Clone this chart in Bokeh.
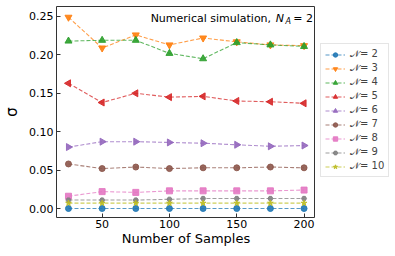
import numpy as np
from bokeh.plotting import figure
from bokeh.layouts import row
from bokeh.models import Range1d, Legend, LegendItem, Label, FixedTicker, NumeralTickFormatter
from bokeh.embed import file_html
from bokeh.resources import INLINE

samples = [25, 50, 75, 100, 125, 150, 175, 200]
series_names = ["2", "3", "4", "5", "6", "7", "8", "9", "10"]
sigma_2 = [0.000, 0.000, 0.000, 0.000, 0.000, 0.000, 0.000, 0.000]
sigma_3 = [0.249, 0.209, 0.226, 0.213, 0.222, 0.217, 0.213, 0.212]
sigma_4 = [0.218, 0.219, 0.219, 0.202, 0.195, 0.216, 0.213, 0.211]
sigma_5 = [0.163, 0.138, 0.150, 0.145, 0.146, 0.140, 0.139, 0.137]
sigma_6 = [0.080, 0.087, 0.087, 0.086, 0.085, 0.083, 0.081, 0.082]
sigma_7 = [0.058, 0.052, 0.054, 0.052, 0.053, 0.053, 0.054, 0.053]
sigma_8 = [0.016, 0.022, 0.021, 0.023, 0.023, 0.023, 0.023, 0.024]
sigma_9 = [0.011, 0.011, 0.011, 0.012, 0.013, 0.013, 0.013, 0.013]
sigma_10 = [0.007, 0.007, 0.007, 0.007, 0.007, 0.007, 0.007, 0.007]
all_sigma = [sigma_2, sigma_3, sigma_4, sigma_5, sigma_6, sigma_7, sigma_8, sigma_9, sigma_10]
x_ticks = [50, 100, 150, 200]
y_ticks = [0.00, 0.05, 0.10, 0.15, 0.20, 0.25]

colors = ["#1f77b4", "#ff7f0e", "#2ca02c", "#d62728", "#9467bd",
          "#8c564b", "#e377c2", "#7f7f7f", "#bcbd22"]
markers = ["circle", "inverted_triangle", "triangle", "triangle", "triangle",
           "circle", "square", "hex", "star"]
angles = [0, 0, 0, np.pi / 2, -np.pi / 2, 0, 0, 0, 0]
msizes = [6, 7, 7, 7, 7, 6, 6, 5, 6]

FONT = "DejaVu Sans"
H = 248

p = figure(width=315, height=H, output_backend="svg", toolbar_location=None,
           x_range=Range1d(16.1, 208.5), y_range=Range1d(-0.0117, 0.2630),
           min_border_left=56, min_border_top=6, min_border_bottom=31, min_border_right=0)
p.background_fill_color = "white"
p.border_fill_color = "white"
p.outline_line_color = "#333333"
p.outline_line_width = 1
p.xgrid.visible = False
p.ygrid.visible = False

# legend panel figure (holds legend proxies only)
lg = figure(width=75, height=H, output_backend="svg", toolbar_location=None,
            x_axis_location=None, y_axis_location=None,
            x_range=Range1d(0, 1), y_range=Range1d(0, 1),
            min_border_left=0, min_border_right=0, min_border_top=6, min_border_bottom=31)
lg.outline_line_color = None
lg.xgrid.visible = False
lg.ygrid.visible = False

items = []
for name, ys, c, m, a, s in zip(series_names, all_sigma, colors, markers, angles, msizes):
    p.line(samples, ys, line_color=c, line_width=1.1, line_dash="4 2", line_alpha=0.75)
    p.scatter(samples, ys, marker=m, angle=a, size=s, fill_color=c, line_color=c,
              fill_alpha=0.9, line_alpha=0.9)
    l1 = lg.line(samples, ys, line_color=c, line_width=1.1, line_dash="4 2", line_alpha=0.75,
                 visible=False)
    l2 = lg.scatter(samples, ys, marker=m, angle=a, size=s, fill_color=c, line_color=c,
                    fill_alpha=0.9, line_alpha=0.9, visible=False)
    items.append(LegendItem(label="\U0001D4A9= " + name, renderers=[l1, l2]))

legend = Legend(items=items, location=(5, 40), margin=0, padding=4, spacing=2,
                label_text_font=FONT, label_text_font_size="10px",
                label_height=12, glyph_height=11, glyph_width=20, label_standoff=5,
                border_line_color="#cccccc", border_line_width=1,
                background_fill_alpha=1.0, inactive_fill_alpha=0.0,
                click_policy="none")
lg.add_layout(legend, "center")

for ax in (p.xaxis[0], p.yaxis[0]):
    ax.axis_line_color = None
    ax.major_tick_in = 4
    ax.major_tick_out = 0
    ax.minor_tick_line_color = None
    ax.major_tick_line_color = "#333333"
    ax.major_label_text_font = FONT
    ax.major_label_text_font_size = "11px"
    ax.major_label_text_color = "black"
    ax.axis_label_text_font = FONT
    ax.axis_label_text_font_style = "normal"
    ax.axis_label_text_color = "black"

p.xaxis[0].ticker = FixedTicker(ticks=x_ticks)
p.yaxis[0].ticker = FixedTicker(ticks=y_ticks)
p.yaxis[0].formatter = NumeralTickFormatter(format="0.00")
p.xaxis[0].axis_label = "Number of Samples"
p.xaxis[0].axis_label_text_font_size = "13px"
p.xaxis[0].major_label_standoff = 2
p.xaxis[0].axis_label_standoff = 0
p.yaxis[0].axis_label = "σ"
p.yaxis[0].axis_label_text_font_size = "15px"
p.yaxis[0].major_label_standoff = 3
p.yaxis[0].axis_label_standoff = 5

tx, ty = 206.7, 0.2474
common = dict(x=tx, y=ty, text_font=FONT, text_baseline="middle", text_align="right",
              text_color="black")
p.add_layout(Label(text="= 2", text_font_size="11px", **common))
p.add_layout(Label(text="A", text_font_size="8px", text_font_style="italic",
                   x_offset=-22, y_offset=-3, **common))
p.add_layout(Label(text="N", text_font_size="11px", text_font_style="italic",
                   x_offset=-29, **common))
p.add_layout(Label(text="Numerical simulation,", text_font_size="11px",
                   x_offset=-42, **common))

layout = row(p, lg)
open("out.html", "w").write(file_html(layout, INLINE))
